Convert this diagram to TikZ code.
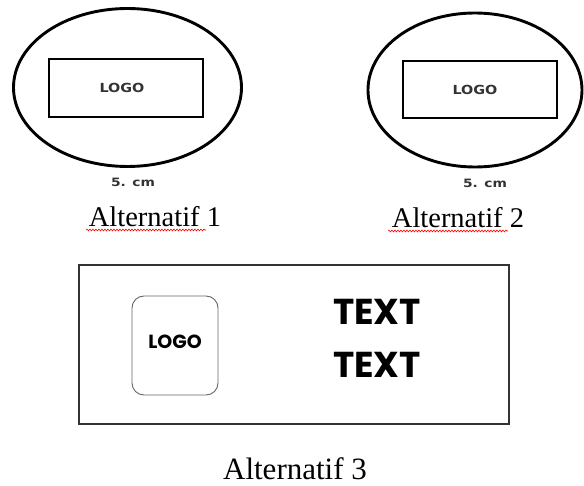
\documentclass[tikz,border=0pt]{standalone}
\usepackage{fontspec}
\setmainfont{Liberation Serif}
\newfontfamily\dvfont{DejaVu Sans}
\newfontfamily\popfont{Poppins}
\usetikzlibrary{shapes.geometric,decorations.pathmorphing}
\definecolor{inkgray}{HTML}{333333}
\tikzset{
  oval/.style={draw, ellipse, line width=2.9pt, inner sep=0pt},
  logobox/.style={draw, rectangle, line width=2.9pt, inner sep=0pt},
  smalllogo/.style={font=\dvfont\bfseries\fontsize{12.5}{12.5}\selectfont, text=inkgray, xscale=1.15},
  sizetxt/.style={font=\dvfont\bfseries\fontsize{11.5}{11.5}\selectfont, text=inkgray, xscale=1.2},
  caption/.style={anchor=base, inner sep=0pt, font=\fontsize{28.5}{28.5}\selectfont},
  spell/.style={draw=red, line width=0.6pt, decorate, decoration={snake, amplitude=0.9pt, segment length=3pt}},
  bigtext/.style={font=\popfont\bfseries\fontsize{36}{36}\selectfont, inner sep=0pt},
}
\begin{document}
\begin{tikzpicture}[x=1pt,y=-1pt]
\useasboundingbox[fill=white] (0,0) rectangle (584,486);
% Alternatif 1
\node[oval, minimum width=228pt, minimum height=158pt] (e1) at (127.5,87.5) {};
\node[logobox, minimum width=154pt, minimum height=58pt] (r1) at (126,88) {};
\node[smalllogo] (l1) at (122,88) {LOGO};
\node[sizetxt] (s1) at (133,182) {5. cm};
\node[caption] (c1) at (155,227) {Alternatif 1};
\coordinate (u1a) at (86,230);
\coordinate (u1b) at (206,230);
\draw[spell] (u1a) -- (u1b);
% Alternatif 2
\node[oval, minimum width=214pt, minimum height=154pt] (e2) at (475,90) {};
\node[logobox, minimum width=154pt, minimum height=57pt] (r2) at (480,89.5) {};
\node[smalllogo] (l2) at (475,90) {LOGO};
\node[sizetxt] (s2) at (485,183) {5. cm};
\node[caption] (c2) at (458,228) {Alternatif 2};
\coordinate (u2a) at (388,231);
\coordinate (u2b) at (508,231);
\draw[spell] (u2a) -- (u2b);
% Alternatif 3
\node[draw=inkgray, rectangle, line width=1.8pt, minimum width=430pt, minimum height=159pt, inner sep=0pt] (b3) at (294,344.5) {};
\node[draw=black!60, rectangle, rounded corners=12pt, line width=0.9pt, minimum width=86pt, minimum height=99pt, inner sep=0pt] (r3) at (175,345.5) {};
\node[font=\popfont\bfseries\fontsize{19}{19}\selectfont] (l3) at (175,342) {LOGO};
\node[bigtext] (t1) at (377,312) {TEXT};
\node[bigtext] (t2) at (377,365) {TEXT};
\node[caption, font=\fontsize{31}{31}\selectfont] (c3) at (295,479) {Alternatif 3};
\end{tikzpicture}
\end{document}
